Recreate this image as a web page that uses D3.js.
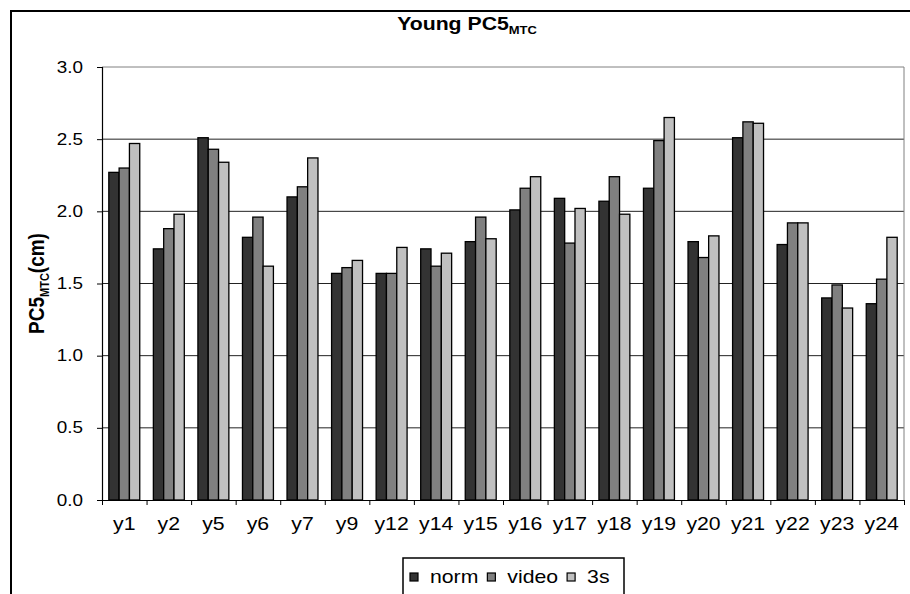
<!DOCTYPE html>
<html>
<head>
<meta charset="utf-8">
<script src="https://cdn.jsdelivr.net/npm/d3@7"></script>
<style>
body{margin:0;background:#fff;overflow:hidden;}
text{font-family:Arial,"Liberation Sans",sans-serif;fill:#000;}
</style>
</head>
<body>
<svg id="chart"></svg>
<script>
// data
const categories = ['y1','y2','y5','y6','y7','y9','y12','y14','y15','y16','y17','y18','y19','y20','y21','y22','y23','y24'];
const seriesNames = ['norm','video','3s'];
const normValues  = [2.27,1.74,2.51,1.82,2.10,1.57,1.57,1.74,1.79,2.01,2.09,2.07,2.16,1.79,2.51,1.77,1.40,1.36];
const videoValues = [2.30,1.88,2.43,1.96,2.17,1.61,1.57,1.62,1.96,2.16,1.78,2.24,2.49,1.68,2.62,1.92,1.49,1.53];
const s3Values    = [2.47,1.98,2.34,1.62,2.37,1.66,1.75,1.71,1.81,2.24,2.02,1.98,2.65,1.83,2.61,1.92,1.33,1.82];
const yTicks = [0,0.5,1.0,1.5,2.0,2.5,3.0];
const seriesColors = ['#333333','#808080','#c0c0c0'];

// the source picture is a bit stretched sideways, so text is too
const SX = 1.18;

class BarChart{

    constructor(config){
        this.config = {
            parent: config.parent,
            width: config.width || 910,
            height: config.height || 594,
            margin: config.margin || {top:67, right:6, bottom:94, left:102}
        }
        this.init();
    }

    init(){
        let self = this;

        self.svg = d3.select(self.config.parent)
            .attr('width', self.config.width)
            .attr('height', self.config.height);

        // outer chart border (runs off the page right and bottom)
        self.svg.append('rect')
            .attr('x', 11).attr('y', 11)
            .attr('width', 1200).attr('height', 1200)
            .attr('fill', 'none')
            .attr('stroke', '#000')
            .attr('stroke-width', 2);

        self.chart = self.svg.append('g')
            .attr('transform', `translate(${self.config.margin.left}, ${self.config.margin.top})`);

        self.inner_width = self.config.width - self.config.margin.left - self.config.margin.right;
        self.inner_height = self.config.height - self.config.margin.top - self.config.margin.bottom;

        self.data = categories.map((c, i) => ({
            cat: c,
            values: [normValues[i], videoValues[i], s3Values[i]]
        }));

        self.x0 = d3.scaleBand()
            .domain(categories)
            .range([0, self.inner_width]);

        self.x1 = d3.scaleBand()
            .domain(seriesNames)
            .range([0, self.x0.bandwidth()])
            .paddingOuter(0.66);

        self.xedge = d3.scaleLinear()
            .domain([0, categories.length])
            .range([0, self.inner_width]);

        self.yscale = d3.scaleLinear()
            .domain([0, 3])
            .range([self.inner_height, 0]);

        self.render();
    }

    render(){
        let self = this;

        // gridlines
        self.chart.append('g')
            .selectAll('line')
            .data(yTicks.slice(1))
            .join('line')
            .attr('x1', 0)
            .attr('x2', self.inner_width)
            .attr('y1', d => self.yscale(d))
            .attr('y2', d => self.yscale(d))
            .attr('stroke', d => d === 3 ? '#808080' : '#222')
            .attr('stroke-width', 1);

        // right edge of plot area
        self.chart.append('line')
            .attr('x1', self.inner_width).attr('x2', self.inner_width)
            .attr('y1', 0).attr('y2', self.inner_height)
            .attr('stroke', '#808080');

        // bars
        self.chart.append('g')
            .selectAll('g')
            .data(self.data)
            .join('g')
            .attr('transform', d => `translate(${self.x0(d.cat)},0)`)
            .selectAll('rect')
            .data(d => d.values.map((v, i) => ({key: seriesNames[i], value: v, i: i})))
            .join('rect')
            .attr('x', d => self.x1(d.key))
            .attr('y', d => self.yscale(d.value))
            .attr('width', self.x1.bandwidth())
            .attr('height', d => self.inner_height - self.yscale(d.value))
            .attr('fill', d => seriesColors[d.i])
            .attr('stroke', '#000')
            .attr('stroke-width', 1.3);

        // y axis
        self.yaxis_group = self.chart.append('g')
            .call(d3.axisLeft(self.yscale)
                .tickValues(yTicks)
                .tickFormat(d3.format('.1f'))
                .tickSize(5)
                .tickPadding(14));
        self.yaxis_group.select('.domain').attr('stroke', '#000').attr('stroke-width', 1.2);
        self.yaxis_group.selectAll('text')
            .style('font-size', '16px')
            .attr('x', function(){ return +d3.select(this).attr('x') / SX; })
            .attr('transform', `scale(${SX},1)`);

        // x axis: ticks at the category edges
        self.xaxis_group = self.chart.append('g')
            .attr('transform', `translate(0, ${self.inner_height})`)
            .call(d3.axisBottom(self.xedge)
                .tickValues(d3.range(categories.length + 1))
                .tickFormat('')
                .tickSize(5)
                .tickSizeOuter(0));
        self.xaxis_group.select('.domain').attr('stroke', '#000').attr('stroke-width', 1.2);

        // category labels
        self.label_group = self.chart.append('g')
            .attr('transform', `translate(0, ${self.inner_height})`)
            .call(d3.axisBottom(self.x0).tickSize(0).tickPadding(17));
        self.label_group.select('.domain').remove();
        self.label_group.selectAll('text')
            .style('font-size', '18px')
            .attr('transform', `scale(${SX},1)`);

        // title
        const title = self.svg.append('text')
            .attr('text-anchor', 'middle')
            .attr('transform', `translate(467, 30) scale(${SX},1)`)
            .style('font-size', '18px')
            .style('font-weight', 'bold');
        title.append('tspan').text('Young PC5');
        title.append('tspan').attr('dy', 4).style('font-size', '11px').text('MTC');

        // y label
        const ylabel = self.svg.append('text')
            .attr('text-anchor', 'middle')
            .attr('transform', `translate(44, ${self.config.margin.top + self.inner_height / 2}) rotate(-90) scale(1,${SX})`)
            .style('font-size', '19px')
            .style('font-weight', 'bold');
        ylabel.append('tspan').text('PC5');
        ylabel.append('tspan').attr('dy', 4).style('font-size', '11px').text('MTC');
        ylabel.append('tspan').attr('dy', -4).text('(cm)');

        // legend
        const legend = self.svg.append('g');
        legend.append('rect')
            .attr('x', 403).attr('y', 558)
            .attr('width', 221).attr('height', 100)
            .attr('fill', '#fff')
            .attr('stroke', '#000')
            .attr('stroke-width', 1.5);
        let cursor = 410;
        seriesNames.forEach((name, i) => {
            legend.append('rect')
                .attr('x', cursor).attr('y', 573)
                .attr('width', 8).attr('height', 8)
                .attr('fill', seriesColors[i])
                .attr('stroke', '#000')
                .attr('stroke-width', 1.2);
            const t = legend.append('text')
                .attr('transform', `translate(${cursor + 20}, 583) scale(${SX},1)`)
                .style('font-size', '18px')
                .text(name);
            cursor += 20 + t.node().getComputedTextLength() * SX + 9;
        });
    }

}

new BarChart({parent: '#chart'});
</script>
</body>
</html>
